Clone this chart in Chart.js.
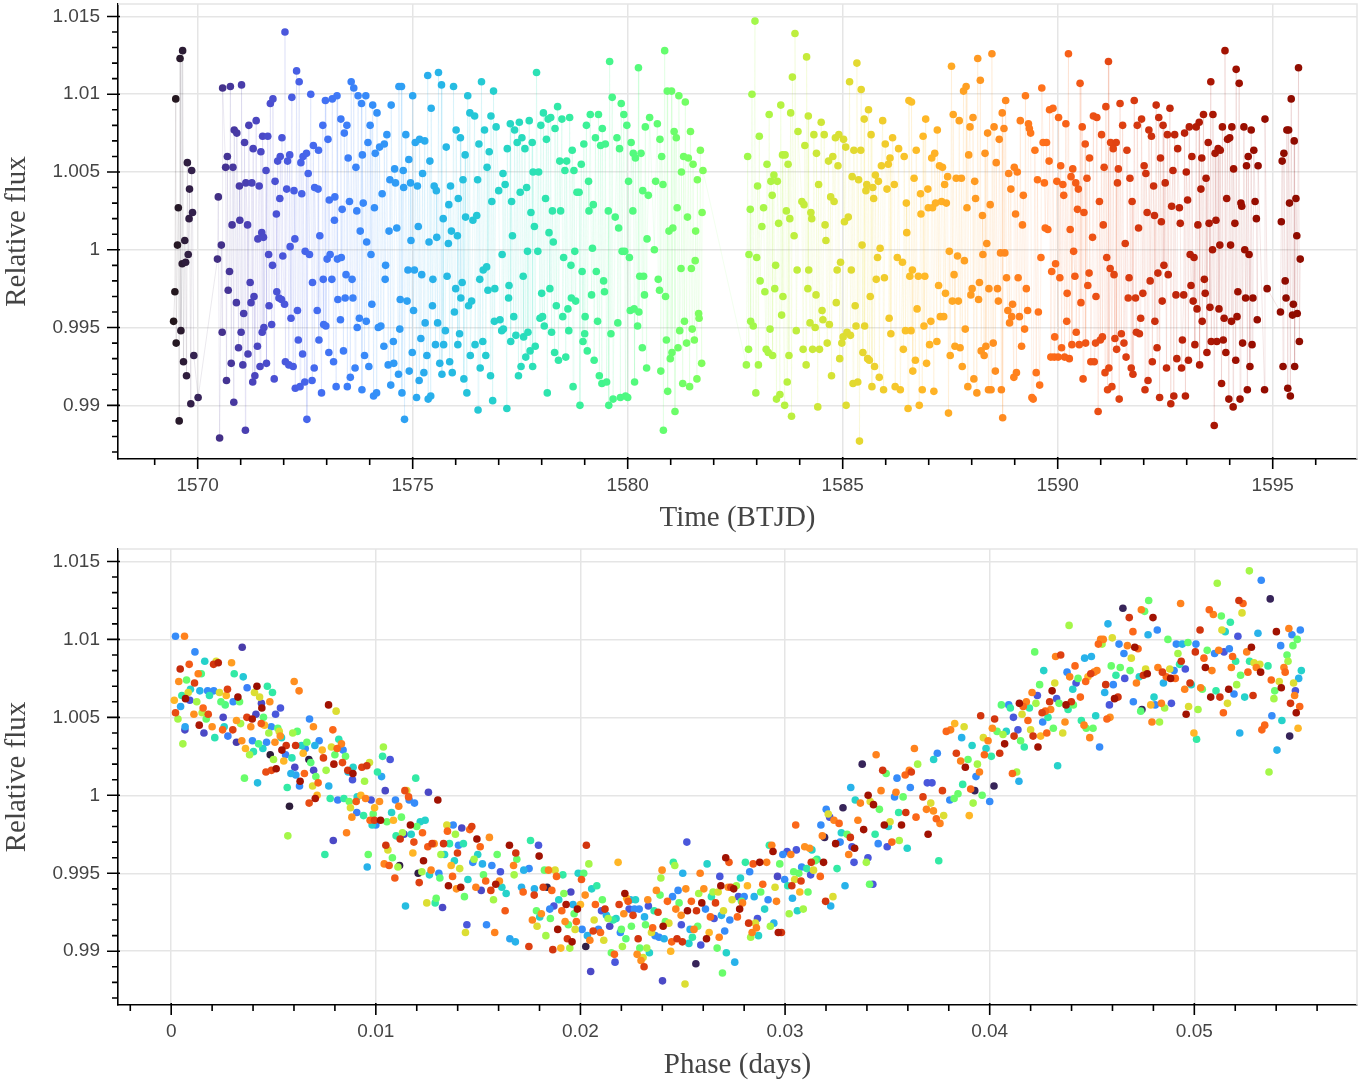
<!DOCTYPE html>
<html>
<head>
<meta charset="utf-8">
<script src="https://cdn.jsdelivr.net/npm/chart.js@4.4.0/dist/chart.umd.min.js"></script>
<style>
  body { margin: 0; background: #fff; width: 1371px; height: 1083px; overflow: hidden; position: relative; }
  canvas { position: absolute; left: 0; }
  #lcChart { top: 0; }
  #foldChart { top: 540px; }
</style>
</head>
<body>
<canvas id="lcChart" width="1371" height="540"></canvas>
<canvas id="foldChart" width="1371" height="543"></canvas>
<script>
// Light curve: [time (BTJD), relative flux]
const lightCurve = [
[1569.49,1.0097],[1569.59,1.0123],[1569.65,1.0128],[1569.76,1.0056],[1569.86,1.0051],[1569.81,1.0039],[1569.88,1.0024],[1569.80,1.0020],
[1569.55,1.0027],[1569.53,1.0003],[1569.70,1.0006],[1569.78,0.9997],[1569.64,0.9991],[1569.72,0.9992],[1569.47,0.9973],[1569.44,0.9954],
[1569.61,0.9948],[1569.50,0.9940],[1569.67,0.9928],[1569.91,0.9932],[1569.74,0.9919],[1569.84,0.9901],[1570.01,0.9905],[1569.57,0.9890],
[1570.48,1.0034],[1570.55,1.0003],[1570.46,0.9994],[1570.57,0.9947],[1570.51,0.9879],[1570.58,1.0104],[1570.76,1.0105],[1570.67,0.9916],
[1570.69,1.0060],[1570.65,1.0053],[1570.82,1.0053],[1570.80,1.0016],[1570.74,0.9986],[1570.71,0.9974],[1570.78,0.9927],[1570.84,0.9902],
[1570.85,1.0077],[1570.91,1.0075],[1570.97,1.0041],[1570.90,0.9966],[1570.95,0.9937],[1571.02,1.0106],[1571.09,1.0069],[1571.12,1.0043],
[1570.98,1.0019],[1571.16,1.0016],[1571.01,0.9947],[1571.07,0.9959],[1571.05,0.9926],[1571.11,0.9884],[1571.19,1.0080],[1571.26,1.0043],
[1571.29,1.0065],[1571.36,1.0083],[1571.22,0.9979],[1571.24,0.9966],[1571.31,0.9970],[1571.17,0.9933],[1571.33,0.9919],[1571.28,0.9915],
[1571.39,0.9938],[1571.47,1.0063],[1571.43,1.0041],[1571.40,1.0007],[1571.49,1.0011],[1571.53,1.0008],[1571.51,1.0073],[1571.63,1.0073],
[1571.59,1.0051],[1571.65,0.9997],[1571.74,0.9990],[1571.50,0.9947],[1571.54,0.9950],[1571.60,0.9927],[1571.66,0.9964],[1571.72,0.9952],
[1571.45,0.9925],[1571.78,0.9917],[1571.69,1.0094],[1571.75,1.0097],[1571.80,1.0044],[1571.83,1.0023],[1571.86,1.0057],[1571.91,1.0033],
[1571.84,0.9973],[1571.89,0.9969],[1571.95,0.9968],[1572.02,0.9965],[1571.98,0.9996],[1571.92,1.0060],[1571.96,1.0072],[1572.03,1.0140],
[1572.09,1.0057],[1572.14,1.0061],[1572.07,1.0039],[1572.15,1.0002],[1572.17,0.9956],[1572.04,0.9928],[1572.12,0.9926],[1572.22,0.9925],
[1572.19,1.0098],[1572.24,1.0038],[1572.26,1.0007],[1572.30,1.0115],[1572.36,1.0108],[1572.27,0.9911],[1572.38,0.9912],[1572.49,0.9915],
[1572.32,0.9961],[1572.34,0.9942],[1572.40,1.0056],[1572.42,1.0036],[1572.45,1.0060],[1572.53,1.0062],[1572.44,0.9933],[1572.50,0.9999],
[1572.60,0.9997],[1572.57,1.0049],[1572.54,0.9891],[1572.63,1.0100],[1572.66,0.9916],[1572.69,1.0067],[1572.72,1.0040],[1572.80,1.0039],
[1572.67,0.9979],[1572.71,0.9924],[1572.81,1.0064],[1572.82,0.9942],[1572.78,0.9961],[1572.84,1.0009],[1572.88,0.9908],[1572.91,1.0080],
[1572.92,0.9981],[1573.12,0.9981],[1572.93,0.9952],[1572.98,0.9951],[1572.97,1.0096],[1573.03,1.0071],[1573.01,0.9994],[1573.08,0.9997],
[1573.06,1.0032],[1573.05,0.9934],[1573.13,1.0097],[1573.16,0.9928],[1573.18,1.0019],[1573.19,1.0034],[1573.24,1.0099],[1573.22,0.9912],
[1573.26,0.9968],[1573.43,0.9969],[1573.25,0.9994],[1573.34,0.9995],[1573.33,1.0084],[1573.32,0.9955],[1573.36,1.0026],[1573.39,0.9935],
[1573.41,1.0075],[1573.47,1.0080],[1573.48,0.9912],[1573.50,1.0059],[1573.45,0.9984],[1573.53,1.0031],[1573.55,0.9918],[1573.57,1.0108],
[1573.59,0.9981],[1573.61,0.9969],[1573.63,1.0104],[1573.66,0.9924],[1573.68,1.0053],[1573.70,1.0025],[1573.71,0.9950],[1573.73,1.0099],
[1573.76,0.9956],[1573.78,1.0012],[1573.81,1.0094],[1573.83,1.0061],[1573.82,0.9910],[1573.85,1.0030],[1573.88,0.9932],[1573.91,1.0099],
[1573.93,1.0005],[1573.92,0.9954],[1573.96,1.0069],[1573.98,0.9925],[1574.01,1.0080],[1574.03,0.9997],[1574.05,0.9965],[1574.07,1.0093],
[1574.09,0.9906],[1574.16,0.9908],[1574.11,1.0027],[1574.13,1.0062],[1574.17,1.0088],[1574.20,0.9950],[1574.26,0.9951],[1574.23,1.0066],
[1574.34,1.0068],[1574.29,1.0036],[1574.33,0.9938],[1574.36,0.9981],[1574.37,0.9990],[1574.40,1.0074],[1574.43,0.9926],[1574.56,0.9927],
[1574.45,1.0012],[1574.63,1.0014],[1574.47,1.0045],[1574.60,1.0043],[1574.49,0.9913],[1574.50,1.0093],[1574.55,0.9941],[1574.58,1.0052],
[1574.78,1.0051],[1574.67,0.9920],[1574.68,1.0105],[1574.74,1.0105],[1574.70,0.9949],[1574.71,0.9968],[1574.87,0.9967],[1574.75,0.9908],
[1574.79,1.0040],[1574.81,0.9891],[1574.84,1.0074],[1574.89,0.9987],[1574.91,1.0058],[1574.92,0.9922],[1574.95,1.0043],[1574.96,1.0006],
[1575.00,1.0099],[1575.02,0.9961],[1574.99,0.9934],[1575.04,0.9987],[1575.21,0.9984],[1575.06,1.0069],[1575.16,1.0071],[1575.28,1.0070],
[1575.09,0.9905],[1575.11,1.0041],[1575.13,1.0015],[1575.15,0.9916],[1575.19,0.9943],[1575.23,1.0049],[1575.26,0.9921],[1575.29,0.9953],
[1575.33,0.9932],[1575.35,1.0112],[1575.36,0.9904],[1575.42,0.9906],[1575.38,1.0005],[1575.40,1.0057],[1575.43,1.0091],[1575.46,0.9964],
[1575.47,0.9981],[1575.50,1.0041],[1575.55,1.0038],[1575.53,0.9939],[1575.56,1.0008],[1575.58,0.9953],[1575.60,1.0114],[1575.63,0.9927],
[1575.68,0.9920],[1575.67,1.0106],[1575.71,1.0020],[1575.72,0.9939],[1575.76,0.9948],[1575.78,1.0066],[1575.80,0.9983],[1575.83,1.0004],
[1575.84,1.0029],[1575.86,0.9928],[1575.92,0.9921],[1575.88,1.0041],[1575.90,1.0012],[1575.95,1.0105],[1575.97,0.9960],[1576.00,0.9975],
[1576.01,1.0077],[1576.04,1.0009],[1576.05,0.9939],[1576.06,1.0033],[1576.09,0.9946],[1576.11,1.0072],[1576.12,0.9969],[1576.15,0.9979],
[1576.17,1.0045],[1576.19,0.9917],[1576.22,1.0061],[1576.23,1.0021],[1576.40,1.0019],[1576.49,1.0022],[1576.26,0.9908],[1576.28,1.0099],
[1576.30,0.9964],[1576.33,1.0088],[1576.44,1.0086],[1576.34,0.9932],[1576.37,0.9967],[1576.45,0.9939],[1576.51,1.0045],[1576.52,0.9897],
[1576.54,1.0068],[1576.56,0.9981],[1576.57,0.9924],[1576.60,1.0108],[1576.63,0.9941],[1576.64,0.9987],[1576.72,0.9989],[1576.67,1.0077],
[1576.70,0.9932],[1576.73,1.0053],[1576.75,0.9974],[1576.78,1.0063],[1576.81,0.9919],[1576.82,1.0086],[1576.84,1.0031],[1576.86,0.9903],
[1576.88,1.0102],[1576.90,0.9954],[1576.91,0.9975],[1576.94,1.0079],
[1577.08,0.9997],[1577.10,1.0049],[1577.15,1.0042],[1577.00,1.0038],[1577.03,0.9955],[1577.07,0.9948],[1577.11,0.9949],[1577.19,0.9898],
[1577.20,1.0065],[1577.23,0.9969],[1577.24,0.9977],[1577.27,1.0081],[1577.28,0.9941],[1577.30,1.0031],[1577.32,1.0009],[1577.35,0.9957],
[1577.37,1.0077],[1577.40,0.9945],[1577.43,1.0069],[1577.46,0.9919],[1577.48,1.0082],[1577.50,1.0037],[1577.52,0.9925],[1577.54,1.0072],
[1577.57,0.9983],[1577.58,0.9944],[1577.61,1.0065],[1577.63,0.9931],[1577.65,1.0040],[1577.67,0.9999],[1577.68,0.9947],[1577.71,1.0083],
[1577.73,0.9935],[1577.75,1.0024],[1577.78,1.0069],[1577.80,1.0050],[1577.79,0.9925],[1577.83,1.0015],[1577.85,0.9938],[1577.88,1.0114],
[1577.91,0.9999],[1577.93,1.0050],[1577.96,0.9956],[1577.98,1.0080],[1578.00,0.9972],[1578.02,0.9957],[1578.04,1.0088],[1578.06,0.9951],
[1578.09,1.0033],[1578.11,1.0071],[1578.13,0.9908],[1578.15,1.0084],[1578.17,1.0011],[1578.19,0.9975],[1578.21,1.0085],[1578.23,0.9947],
[1578.25,1.0025],[1578.27,1.0005],[1578.30,0.9934],[1578.31,1.0078],[1578.34,0.9964],[1578.37,1.0092],[1578.39,0.9929],[1578.42,1.0057],
[1578.44,1.0025],[1578.47,1.0084],[1578.49,0.9957],[1578.51,0.9995],[1578.54,1.0051],[1578.56,0.9931],[1578.58,1.0057],[1578.61,0.9962],
[1578.63,0.9948],[1578.65,1.0085],[1578.68,0.9990],[1578.69,0.9969],[1578.71,1.0064],[1578.73,0.9912],[1578.75,1.0051],[1578.77,0.9999],
[1578.79,0.9967],[1578.82,1.0037],[1578.87,1.0037],[1578.89,0.9900],[1578.92,1.0055],[1578.94,0.9986],[1578.96,0.9941],[1578.98,1.0068],
[1579.00,0.9946],[1579.01,0.9957],[1579.04,1.0080],[1579.06,0.9935],[1579.09,1.0044],[1579.10,1.0025],[1579.13,1.0087],[1579.16,0.9971],
[1579.18,1.0001],[1579.20,1.0029],[1579.22,0.9929],[1579.25,1.0072],[1579.27,0.9986],[1579.30,0.9954],[1579.32,1.0087],[1579.34,0.9919],
[1579.37,1.0067],[1579.40,0.9914],[1579.41,1.0078],[1579.44,0.9980],[1579.46,0.9973],[1579.48,1.0068],[1579.51,0.9915],[1579.55,1.0025],
[1579.56,0.9900],[1579.58,1.0121],[1579.61,0.9946],[1579.64,1.0098],[1579.66,0.9904],[1579.71,1.0021],[1579.75,1.0072],[1579.77,0.9953],
[1579.79,1.0014],[1579.81,1.0065],[1579.83,0.9905],[1579.85,1.0094],[1579.87,0.9999],[1579.91,1.0087],[1579.93,0.9999],[1579.95,0.9906],
[1579.98,1.0080],[1580.00,0.9905],[1580.02,1.0044],[1580.04,0.9995],[1580.06,0.9961],[1580.08,1.0069],[1580.12,1.0025],[1580.13,1.0062],
[1580.15,0.9962],[1580.26,0.9960],[1580.16,0.9915],[1580.18,1.0059],[1580.23,0.9951],[1580.25,1.0117],[1580.28,0.9983],[1580.37,0.9983],
[1580.31,1.0062],[1580.34,0.9937],[1580.35,1.0038],[1580.39,0.9971],[1580.41,1.0079],[1580.44,0.9924],[1580.45,1.0007],[1580.48,1.0035],
[1580.51,1.0085],[1580.62,1.0000],[1580.65,1.0044],[1580.69,1.0081],[1580.71,0.9981],[1580.74,0.9974],[1580.75,1.0071],[1580.77,0.9922],
[1580.79,1.0060],[1580.82,1.0042],[1580.83,0.9884],[1580.86,1.0128],[1580.88,0.9970],[1580.90,0.9942],[1580.92,1.0102],[1581.02,1.0102],
[1580.93,0.9909],[1580.96,1.0012],[1581.05,1.0014],[1580.99,0.9930],[1581.03,0.9934],[1581.08,1.0076],[1581.10,0.9896],[1581.13,1.0072],
[1581.15,1.0027],[1581.17,0.9937],[1581.19,1.0099],[1581.21,0.9948],[1581.24,0.9988],[1581.25,1.0050],[1581.28,0.9914],[1581.30,1.0060],
[1581.32,0.9954],[1581.34,1.0095],[1581.37,0.9940],[1581.39,1.0021],[1581.41,1.0059],[1581.44,0.9912],[1581.46,1.0076],[1581.48,0.9988],
[1581.50,0.9949],[1581.52,1.0055],[1581.55,0.9942],[1581.57,0.9993],[1581.58,1.0012],[1581.61,0.9917],[1581.62,1.0045],[1581.65,0.9959],
[1581.66,0.9956],[1581.69,1.0064],[1581.72,0.9927],[1581.73,1.0024],[1581.75,1.0051],
[1582.76,0.9926],[1582.79,1.0060],[1582.81,0.9936],[1582.82,0.9997],[1582.85,1.0026],[1582.86,0.9954],[1582.89,1.0100],[1582.92,0.9951],
[1582.96,1.0147],[1582.98,0.9908],[1583.00,0.9995],[1583.02,1.0041],[1583.04,0.9926],[1583.06,1.0073],[1583.08,0.9980],[1583.12,1.0015],
[1583.16,1.0027],[1583.19,0.9973],[1583.22,0.9936],[1583.24,1.0055],[1583.27,0.9934],[1583.29,1.0087],[1583.31,0.9949],[1583.33,1.0044],
[1583.36,1.0035],[1583.37,0.9932],[1583.40,1.0048],[1583.42,0.9975],[1583.44,0.9990],[1583.46,0.9904],[1583.48,1.0044],[1583.51,1.0017],
[1583.54,0.9907],[1583.56,1.0093],[1583.58,0.9958],[1583.60,1.0061],[1583.61,0.9970],[1583.65,0.9900],[1583.66,1.0061],[1583.69,1.0025],
[1583.71,0.9915],[1583.73,1.0055],[1583.75,0.9932],[1583.77,1.0020],[1583.79,1.0088],[1583.81,0.9893],[1583.83,1.0111],[1583.87,1.0009],
[1583.89,1.0139],[1583.92,0.9948],[1583.94,0.9987],[1583.96,1.0076],
[1584.05,1.0031],[1584.10,1.0029],[1584.08,0.9936],[1584.12,1.0067],[1584.15,0.9926],[1584.16,1.0124],[1584.19,0.9975],[1584.20,1.0086],
[1584.21,0.9987],[1584.24,0.9953],[1584.26,1.0024],[1584.28,1.0020],[1584.30,0.9936],[1584.33,1.0074],[1584.36,0.9950],[1584.38,0.9971],
[1584.39,1.0062],[1584.42,0.9899],[1584.44,1.0042],[1584.46,0.9936],[1584.50,1.0082],[1584.52,0.9961],[1584.54,0.9955],[1584.57,1.0074],
[1584.59,1.0016],[1584.61,1.0006],[1584.64,0.9940],[1584.67,1.0057],[1584.69,0.9952],[1584.72,1.0034],[1584.74,0.9919],[1584.77,1.0060],
[1584.80,1.0031],[1584.83,1.0072],[1584.85,0.9966],[1584.87,0.9987],[1584.89,1.0054],[1584.91,1.0074],[1584.93,0.9930],[1584.95,0.9992],
[1584.98,0.9940],[1585.01,0.9944],[1585.02,1.0071],[1585.04,1.0018],[1585.07,1.0066],[1585.08,0.9900],[1585.10,0.9947],[1585.13,1.0021],
[1585.16,1.0108],[1585.18,0.9945],[1585.20,0.9987],[1585.22,1.0047],[1585.24,0.9914],[1585.26,1.0064],[1585.29,0.9964],[1585.31,0.9951],
[1585.33,1.0120],[1585.35,0.9915],[1585.37,1.0045],[1585.39,0.9877],[1585.42,1.0064],[1585.43,1.0103],[1585.45,1.0003],[1585.47,0.9934],
[1585.50,1.0084],[1585.51,0.9951],[1585.54,1.0038],[1585.56,1.0042],[1585.58,0.9930],[1585.60,1.0090],[1585.62,0.9929],[1585.64,0.9970],
[1585.66,1.0074],[1585.68,0.9912],[1585.70,1.0040],[1585.72,1.0033],[1585.74,0.9925],[1585.76,1.0048],[1585.78,0.9981],[1585.81,0.9995],
[1585.83,1.0044],[1585.85,0.9918],[1585.87,1.0001],[1585.90,1.0054],[1585.93,1.0083],[1585.95,0.9910],[1585.97,0.9982],[1585.99,1.0068],
[1586.03,1.0039],[1586.06,1.0055],[1586.08,0.9956],[1586.10,1.0059],[1586.12,0.9946],[1586.16,1.0072],[1586.20,1.0042],[1586.22,0.9912],
[1586.27,0.9995],[1586.30,1.0065],[1586.34,0.9910],[1586.39,0.9992],[1586.41,0.9936],[1586.43,1.0060],[1586.46,0.9948],[1586.48,1.0030],
[1586.49,1.0011],[1586.52,0.9898],[1586.54,1.0096],[1586.56,0.9983],[1586.62,0.9987],[1586.59,0.9948],[1586.60,1.0095],[1586.63,0.9922],
[1586.66,1.0046],[1586.69,0.9929],[1586.71,1.0064],[1586.73,0.9962],[1586.76,0.9983],[1586.78,0.9900],[1586.81,1.0036],[1586.82,1.0023],
[1586.85,0.9910],[1586.87,1.0073],[1586.89,0.9951],[1586.91,0.9983],[1586.93,1.0084],[1586.95,0.9927],[1586.98,1.0039],[1586.99,1.0027],
[1587.02,0.9939],[1587.05,0.9954],[1587.07,1.0059],[1587.09,1.0027],[1587.12,0.9909],[1587.14,1.0062],[1587.16,1.0030],[1587.19,0.9941],
[1587.20,1.0077],[1587.23,0.9977],[1587.25,1.0054],[1587.27,0.9957],[1587.30,1.0031],[1587.32,1.0053],[1587.35,0.9957],[1587.37,1.0042],
[1587.39,0.9972],[1587.41,1.0030],[1587.44,1.0047],[1587.46,0.9895],[1587.48,0.9999],[1587.50,0.9932],[1587.53,1.0118],[1587.55,0.9967],
[1587.57,1.0087],[1587.59,0.9984],[1587.61,0.9938],[1587.64,1.0046],[1587.76,1.0046],[1587.67,0.9996],[1587.69,0.9967],[1587.71,1.0083],
[1587.73,0.9937],[1587.78,0.9925],[1587.81,1.0102],[1587.83,0.9993],[1587.85,0.9949],[1587.87,1.0105],[1587.89,1.0027],[1587.91,0.9912],
[1587.93,1.0061],[1587.96,1.0079],[1587.98,0.9971],[1588.01,0.9975],[1588.03,1.0085],[1588.05,0.9917],[1588.07,1.0044],[1588.09,1.0033],
[1588.12,0.9908],[1588.14,1.0123],[1588.16,0.9968],[1588.18,0.9979],[1588.20,1.0109],[1588.22,0.9935],[1588.25,1.0022],[1588.26,0.9997],
[1588.29,0.9932],[1588.31,1.0062],[1588.33,0.9938],[1588.35,1.0004],[1588.37,1.0075],[1588.39,0.9910],[1588.40,0.9975],[1588.43,1.0029],
[1588.45,0.9910],[1588.47,1.0126],[1588.50,0.9940],[1588.52,1.0079],[1588.55,0.9922],[1588.57,1.0056],[1588.60,0.9975],[1588.62,0.9967],
[1588.64,1.0071],[1588.67,0.9998],[1588.69,0.9910],[1588.71,1.0088],[1588.72,0.9892],[1588.75,1.0078],[1588.77,0.9998],[1588.79,1.0096],
[1588.81,0.9982],[1588.84,0.9961],[1588.86,1.0049],[1588.88,0.9953],[1588.91,1.0039],[1588.93,0.9957],[1588.95,0.9965],[1588.98,0.9918],
[1588.99,1.0053],[1589.02,1.0023],[1589.04,0.9921],[1589.06,1.0050],[1589.08,0.9982],[1589.11,0.9957],[1589.13,1.0083],[1589.16,0.9938],
[1589.18,1.0016],[1589.20,1.0035],[1589.23,0.9949],[1589.25,1.0099],[1589.27,0.9975],[1589.30,0.9961],[1589.32,1.0081],[1589.34,1.0078],
[1589.37,1.0075],[1589.40,0.9905],[1589.43,0.9904],[1589.47,1.0064],[1589.50,0.9921],[1589.53,1.0045],[1589.55,0.9960],[1589.58,0.9913],
[1589.61,0.9995],[1589.63,1.0104],[1589.66,1.0069],[1589.69,1.0043],[1589.71,1.0014],
[1589.74,1.0069],[1589.77,1.0013],[1589.80,1.0057],[1589.81,1.0090],[1589.84,0.9931],[1589.86,0.9986],[1589.89,1.0091],[1589.92,0.9931],
[1589.93,0.9944],[1589.95,0.9991],[1589.98,1.0044],[1590.01,0.9931],[1590.02,1.0085],[1590.05,0.9982],[1590.07,1.0054],[1590.09,0.9937],
[1590.12,1.0042],[1590.14,1.0035],[1590.16,0.9931],[1590.19,1.0081],[1590.21,0.9954],[1590.22,0.9972],[1590.25,1.0126],[1590.27,0.9930],
[1590.29,1.0013],[1590.31,1.0047],[1590.33,0.9939],[1590.35,1.0052],[1590.37,0.9999],[1590.40,0.9983],[1590.42,1.0043],[1590.43,0.9947],
[1590.46,1.0026],[1590.48,1.0039],[1590.50,0.9939],[1590.52,1.0107],[1590.54,0.9966],[1590.57,1.0079],[1590.59,0.9917],[1590.61,1.0024],
[1590.64,1.0068],[1590.65,0.9940],[1590.68,1.0046],[1590.70,0.9977],[1590.73,0.9985],[1590.74,1.0059],[1590.77,0.9928],[1590.81,1.0008],
[1590.83,1.0086],[1590.85,0.9928],[1590.88,0.9940],[1590.89,0.9970],[1590.91,1.0085],[1590.94,0.9896],[1590.97,1.0031],[1590.99,0.9942],
[1591.02,1.0074],[1591.04,0.9944],[1591.06,1.0016],[1591.08,1.0053],[1591.10,0.9921],[1591.12,1.0092],[1591.14,0.9995],[1591.16,0.9910],
[1591.18,1.0121],[1591.19,0.9924],[1591.22,0.9988],[1591.23,1.0069],[1591.26,0.9912],[1591.29,1.0065],[1591.31,0.9984],[1591.33,0.9943],
[1591.36,1.0069],[1591.37,0.9936],[1591.39,1.0043],[1591.41,1.0052],[1591.43,0.9904],[1591.45,1.0094],[1591.48,0.9946],[1591.51,1.0080],
[1591.54,0.9940],[1591.57,1.0004],[1591.59,0.9931],[1591.61,1.0064],[1591.64,0.9969],[1591.66,0.9982],[1591.68,1.0046],[1591.71,0.9924],
[1591.73,1.0031],[1591.75,0.9920],[1591.78,1.0096],[1591.81,0.9969],[1591.83,0.9947],[1591.85,1.0080],[1591.88,1.0014],[1591.90,0.9946],
[1591.93,0.9956],[1591.95,1.0084],[1591.98,0.9972],[1592.01,1.0054],[1592.03,0.9910],[1592.05,1.0049],[1592.08,1.0024],[1592.10,0.9916],
[1592.12,1.0077],[1592.15,0.9980],[1592.18,1.0073],[1592.20,0.9928],[1592.23,1.0041],[1592.25,1.0022],[1592.26,0.9954],[1592.29,1.0093],
[1592.31,0.9937],[1592.33,0.9985],[1592.35,1.0085],[1592.37,0.9905],[1592.39,1.0059],[1592.41,1.0018],[1592.43,0.9967],[1592.45,1.0080],
[1592.47,0.9990],[1592.50,1.0043],[1592.53,0.9924],[1592.55,1.0074],[1592.57,0.9984],[1592.61,1.0091],[1592.63,0.9901],[1592.65,1.0028],
[1592.68,1.0051],[1592.70,0.9906],[1592.72,1.0074],[1592.75,0.9971],[1592.77,0.9930],[1592.79,1.0065],[1592.83,1.0027],[1592.85,1.0017],
[1592.88,0.9924],[1592.90,0.9942],[1592.93,0.9971],[1592.95,1.0075],[1592.97,0.9906],[1592.99,1.0050],[1593.02,1.0032],[1593.04,0.9929],
[1593.06,1.0079],[1593.08,0.9997],[1593.10,0.9977],[1593.12,1.0060],[1593.15,0.9967],[1593.17,0.9995],[1593.19,0.9939],[1593.22,1.0079],
[1593.24,0.9962],[1593.26,1.0016],[1593.29,1.0082],[1593.30,0.9926],[1593.33,1.0039],[1593.35,1.0059],[1593.36,0.9954],[1593.39,1.0087],
[1593.41,0.9981],[1593.43,0.9972],[1593.45,1.0046],[1593.47,0.9934],[1593.50,1.0069],[1593.52,1.0017],[1593.54,0.9963],[1593.56,1.0108],
[1593.57,0.9941],[1593.60,1.0000],[1593.61,1.0087],[1593.64,0.9887],[1593.66,1.0062],[1593.68,1.0019],[1593.70,0.9941],[1593.73,1.0065],
[1593.75,0.9962],[1593.77,1.0003],[1593.78,1.0064],[1593.81,0.9914],[1593.83,1.0079],[1593.85,0.9942],[1593.87,0.9956],[1593.89,1.0128],
[1593.91,0.9934],[1593.93,1.0033],[1593.95,1.0071],[1593.98,0.9904],[1594.00,1.0072],[1594.02,1.0003],[1594.04,0.9954],[1594.05,1.0079],
[1594.08,0.9899],[1594.09,1.0052],[1594.12,1.0017],[1594.14,0.9929],[1594.15,1.0116],[1594.17,0.9957],[1594.19,0.9973],[1594.22,1.0107],
[1594.24,0.9904],[1594.26,1.0030],[1594.28,1.0028],[1594.30,0.9940],[1594.33,1.0079],[1594.35,1.0000],[1594.37,0.9969],[1594.39,1.0054],
[1594.41,0.9910],[1594.43,1.0060],[1594.45,0.9997],[1594.47,0.9925],[1594.50,1.0077],[1594.52,0.9939],[1594.54,0.9969],[1594.56,1.0064],
[1594.59,1.0031],[1594.62,1.0020],[1594.64,0.9955],[1594.66,1.0054],[1594.81,0.9910],[1594.82,1.0084],[1594.87,0.9975],
[1595.18,0.9960],[1595.20,1.0018],[1595.22,1.0057],[1595.24,0.9925],[1595.26,1.0062],[1595.29,0.9980],[1595.31,0.9969],[1595.33,1.0077],
[1595.35,0.9911],[1595.37,1.0077],[1595.39,1.0030],[1595.41,0.9906],[1595.43,1.0097],[1595.46,0.9958],[1595.48,0.9965],[1595.50,1.0070],
[1595.51,0.9925],[1595.54,1.0033],[1595.56,1.0009],[1595.57,0.9959],[1595.60,1.0117],[1595.62,0.9941],[1595.64,0.9994]
];

// Folded light curve: [phase (days), relative flux, time of observation (BTJD)]
const folded = [
[0.00021,1.0102,1574],[0.00065,1.0102,1589],[0.00116,1.0092,1574],[0.00347,1.0095,1571],[0.00044,1.0081,1592.5],[0.00088,1.0084,1590.5],
[0.00164,1.0086,1577],[0.0022,1.0086,1585],[0.00207,1.0084,1592],[0.0023,1.0085,1593],[0.00295,1.0085,1588],[0.00037,1.0073,1588.5],
[0.00075,1.0074,1581],[0.00114,1.0072,1591.5],[0.00132,1.0078,1589],[0.00147,1.0078,1580],[0.00308,1.0078,1578.5],[0.00352,1.0076,1576.5],
[0.00015,1.0061,1587],[0.00021,1.0053,1591],[0.00033,1.0049,1583],[0.00046,1.0057,1575],[0.00052,1.0064,1578.5],[0.0007,1.0062,1594],
[0.00083,1.0066,1585],[0.00094,1.0068,1577],[0.00091,1.0061,1572],[0.00111,1.0052,1588.5],[0.00125,1.006,1583],[0.0014,1.0067,1575.5],
[0.00156,1.0056,1590],[0.00151,1.0053,1583.5],[0.00171,1.0049,1581],[0.00181,1.0052,1591],[0.00137,1.0045,1593.5],[0.00068,1.0044,1575],
[0.00067,1.0042,1571.5],[0.00057,1.0033,1583],[0.0016,1.004,1571.5],[0.00178,1.0067,1574],[0.00187,1.0064,1578],[0.002,1.0044,1588.5],
[0.00208,1.0067,1574],[0.00213,1.0037,1578],[0.00236,1.0066,1585],[0.00243,1.006,1580.5],[0.00254,1.005,1571.5],[0.00259,1.0044,1577],
[0.00251,1.0042,1590],[0.00264,1.0058,1580],[0.00269,1.0064,1587],[0.00275,1.0068,1591.5],[0.00277,1.0038,1573.5],[0.00301,1.0042,1591.5],
[0.00303,1.006,1574],[0.00319,1.0048,1588],[0.00319,1.0034,1571],[0.00326,1.0063,1594],[0.00334,1.006,1581],[0.00339,1.0046,1583],
[0.00345,1.0035,1588.5],[0.00363,1.003,1587],[0.0037,1.005,1591.5],[0.00371,1.0069,1573.5],[0.00383,1.0026,1583],[0.00389,1.0044,1588.5],
[0.00396,1.0049,1593.5],[0.00414,1.0052,1571.5],[0.00397,1.0035,1574],[0.00402,1.0028,1578],[0.00407,1.0066,1585],[0.00419,1.007,1594.5],
[0.00422,1.0008,1576],[0.00358,1.0011,1581],[0.00427,1.0033,1580],[0.00432,1.0063,1585],[0.0044,1.0046,1590.5],[0.00443,1.0056,1594],
[0.00441,1.0059,1571.5],[0.00448,1.003,1577],[0.00451,1.005,1580.5],[0.00456,1.0045,1587],[0.00463,1.0015,1591],[0.00466,1.0034,1574],
[0.0047,1.007,1578.5],[0.00477,1.004,1583],[0.00484,1.0026,1569.7],[0.00482,1.006,1588.5],[0.00489,1.0044,1574],[0.0049,1.0016,1591],
[0.00495,1.0066,1578.5],[0.005,1.0023,1583],[0.00507,1.0034,1588.5],[0.0051,1.0052,1572],[0.00513,1.0017,1594],[0.00521,1.0043,1580.5],
[0.00528,1.0041,1585],[0.00534,1.0056,1572],[0.00533,1.0038,1588.5],[0.00539,1.0037,1577],[0.00541,1.0029,1594],[0.0055,1.0022,1587],
[0.00562,1.0032,1592],[0.00559,1.0026,1573.5],[0.00567,1.0005,1578.5],[0.0057,0.9974,1583],[0.00578,0.9993,1569.7],[0.0059,1.0024,1578],
[0.00594,1.004,1583],[0.00604,1.0018,1571.5],[0.00608,1.0032,1592],[0.00616,1.0041,1580.5],[0.00585,1.0014,1575.5],[0.00609,1.0013,1575],
[0.00627,1.0006,1574],[0.0063,1.0009,1594],[0.00601,1.0073,1588.5],[0.00625,1.0067,1589],[0.00637,1.0032,1577],[0.00645,1.0027,1587],
[0.00651,1.0014,1590],[0.00655,1.003,1574],[0.00663,1.0034,1581],[0.00673,1.0023,1569.8],[0.00676,1.0049,1574],[0.00682,1.0021,1580.5],
[0.00691,1.0006,1585],[0.00695,1.0044,1588.5],[0.00702,1.0032,1575.5],[0.00696,1.0016,1571.5],[0.00707,1.0012,1581],[0.00713,1.0000,1587],
[0.00718,1.0008,1590],[0.00723,1.0035,1574],[0.00674,0.9995,1591],[0.00704,0.9998,1593.5],[0.00738,1.0029,1587],[0.00744,1.0024,1591.5],
[0.00751,0.9962,1578.5],[0.00757,1.0016,1583],[0.00769,1.0058,1594],[0.0077,1.0006,1575.5],[0.00777,0.9998,1578.5],[0.00783,1.0031,1585],
[0.0079,1.0042,1590],[0.00792,0.9971,1571.5],[0.00795,1.002,1593.5],[0.008,1.0026,1581],[0.00806,1.0054,1585],[0.00811,1.003,1590],
[0.00814,0.9997,1573.5],[0.00819,1.0036,1578],[0.00832,1.0033,1589],[0.00837,1.0021,1591],[0.0084,1.0029,1574],[0.00844,0.9998,1578.5],
[0.00852,1.0025,1581],[0.00857,0.9976,1589],[0.00863,1.0016,1592],[0.00865,1.0015,1576],[0.0087,0.9996,1581],[0.00876,0.9992,1585],
[0.00883,0.9986,1588.5],[0.00886,1.001,1572],[0.00889,1.0018,1577],[0.00888,1.0014,1594],[0.00904,0.9996,1590.5],[0.00907,0.9989,1573.5],
[0.00909,0.9999,1577],[0.00927,1.0000,1587],[0.00932,1.0018,1591.5],[0.0094,0.9987,1578.5],[0.00945,1.0009,1583],[0.0095,0.9998,1589],
[0.00956,1.0019,1592],[0.00958,0.9954,1575.5],[0.00963,0.9962,1581],[0.00969,1.0021,1584.5],[0.00977,0.9997,1572],[0.00972,0.9984,1590],
[0.00993,0.9984,1591.5],[0.00982,0.9981,1577],[0.00987,0.9988,1581],[0.00994,0.9992,1587],[0.01,0.9981,1574],[0.01008,1.0015,1578.5],
[0.01018,0.9996,1588.5],[0.01023,0.9984,1594],[0.01028,1.0012,1575],[0.01033,1.0025,1578.5],[0.01037,1.0031,1583],[0.01041,0.9956,1589],
[0.01046,1.0003,1571.5],[0.01049,0.9968,1592],[0.01054,0.9983,1581],[0.01059,0.9965,1585],[0.01065,0.9955,1590.5],[0.0107,1.0023,1572],
[0.01077,0.9989,1577],[0.01081,0.996,1581],[0.01086,0.9984,1587],[0.01093,0.9947,1590.5],[0.01096,0.9997,1574],[0.01099,0.9974,1578.5],
[0.01108,0.9954,1583],[0.01112,0.9993,1589],[0.01116,0.9955,1569.8],[0.01119,0.9972,1592],[0.01125,0.9986,1581],[0.0113,0.9976,1583],
[0.01138,0.9975,1571.5],[0.01142,1.0003,1591],[0.01145,0.9929,1576],[0.01151,1.0003,1585],[0.0116,0.9999,1590.5],[0.01163,0.9997,1574],
[0.01169,0.9981,1594],[0.01173,0.9975,1577],[0.01181,0.9963,1587],[0.01186,0.997,1591],[0.01189,0.9995,1574],[0.01195,1.0011,1578.5],
[0.012,0.998,1581],[0.01207,0.995,1569.8],[0.01212,0.9944,1591.5],[0.01217,0.9983,1577],[0.01225,0.9951,1583],[0.01228,0.9976,1590],
[0.01233,0.9958,1594],[0.01241,0.9984,1577],[0.01249,0.9931,1585],[0.01257,1.0002,1571.5],[0.01254,0.9967,1590.5],[0.01262,0.9949,1577],
[0.0127,0.9952,1589],[0.01275,0.9969,1591.5],[0.01285,0.9969,1588.5],[0.0129,0.9931,1578.5],[0.01295,0.9934,1581],[0.01303,0.9997,1594],
[0.01308,0.995,1574],[0.01313,0.9947,1580.5],[0.01318,0.9962,1583],[0.01326,0.9928,1571.5],[0.01331,0.9969,1592],[0.01336,0.9962,1577],
[0.01347,0.9981,1585],[0.0135,0.9977,1590],[0.01355,0.9942,1594],[0.0136,0.9969,1578.5],[0.01368,0.9955,1587],[0.01375,0.9948,1590],
[0.01378,0.9981,1574],[0.01384,0.9958,1577],[0.01389,0.9975,1583],[0.01394,0.994,1588.5],[0.01399,0.9963,1591.5],[0.01404,0.9968,1574],
[0.0141,0.9953,1584.5],[0.01415,0.9941,1593.5],[0.0142,0.9979,1571.5],[0.01428,0.9969,1578],[0.01433,0.9935,1581],[0.01438,0.9912,1585],
[0.01445,0.9917,1572],[0.0145,0.9946,1577],[0.01459,0.9978,1590],[0.01469,0.998,1591.5],[0.01474,0.9957,1574],[0.0148,0.9959,1583],
[0.01489,0.9941,1589],[0.01494,0.9972,1594],[0.01498,0.9962,1577],[0.0151,0.9967,1590],[0.01515,0.9939,1571.5],[0.01521,0.9956,1575.5],
[0.01526,0.9949,1581],[0.01537,0.9945,1590],[0.01541,0.9917,1574],[0.01555,0.9973,1588.5],[0.01562,0.9939,1591.5],[0.01567,0.9955,1574],
[0.01575,0.9933,1583],[0.01581,0.9912,1589],[0.01586,0.9943,1593.5],[0.01593,0.9962,1581],[0.01604,0.9945,1588.5],[0.01609,0.9951,1572],
[0.01616,0.9941,1577],[0.01632,0.9926,1590.5],[0.01637,0.9937,1577],[0.01655,0.9908,1575],[0.01682,0.9906,1575.5],[0.01653,0.9968,1594],
[0.01673,0.9955,1589],[0.01684,0.9963,1592],[0.01676,0.9949,1583],[0.01689,0.9959,1581],
[0.01712,0.9941,1575.5],[0.0172,0.9938,1590],[0.01723,0.9952,1575.5],[0.01749,0.9953,1574],[0.01756,0.9971,1578.5],[0.01748,0.9903,1591.5],
[0.01765,0.992,1589],[0.01774,0.9936,1591.5],[0.01775,0.994,1575.5],[0.01785,0.9926,1581],[0.01788,0.9916,1585],[0.01795,0.9968,1572],
[0.01798,0.9961,1594],[0.01801,0.9922,1577],[0.01809,0.9924,1588.5],[0.01818,0.9941,1591.5],[0.01824,0.9952,1581],[0.01831,0.991,1583],
[0.01837,0.9941,1569.8],[0.01844,0.9952,1589],[0.0185,0.9927,1574],[0.01853,0.9921,1581],[0.0186,0.9939,1590],[0.01865,0.9901,1592],
[0.0187,0.9929,1572],[0.01876,0.9952,1585],[0.01883,0.9948,1590],[0.01889,0.9914,1594],[0.01894,0.9933,1577],[0.01904,0.9902,1587],
[0.01909,0.9926,1590],[0.01914,0.9949,1578.5],[0.01919,0.9937,1582],[0.01925,0.9919,1588.5],[0.0193,0.993,1593.5],[0.01936,0.9908,1592],
[0.01941,0.9917,1581],[0.01948,0.9902,1583],[0.01953,0.9938,1571.5],[0.01959,0.9906,1594],[0.01964,0.993,1575.5],[0.01969,0.9924,1581],
[0.01974,0.9914,1585],[0.0198,0.9919,1590],[0.01985,0.9927,1594],[0.01989,0.995,1577],[0.02,0.993,1587],[0.02005,0.9946,1590.5],
[0.02008,0.9914,1574],[0.02016,0.995,1580.5],[0.02023,0.9936,1588.5],[0.02026,0.9903,1569.8],[0.02029,0.9968,1592],[0.02034,0.991,1575.5],
[0.02041,0.9956,1583],[0.02046,0.9907,1589],[0.0205,0.9887,1571.5],[0.02055,0.994,1577],[0.02062,0.9913,1591.5],[0.02067,0.992,1585],
[0.02073,0.993,1590],[0.0208,0.9942,1578.5],[0.02088,0.9914,1574],[0.02098,0.9912,1590],[0.02103,0.9926,1572],[0.02107,0.9933,1581],
[0.02114,0.9907,1585],[0.0212,0.9927,1592],[0.02127,0.9923,1575.5],[0.02135,0.9921,1583],[0.02143,0.9916,1571.5],[0.02151,0.9899,1581],
[0.0216,0.992,1578.5],[0.02166,0.9898,1590],[0.02169,0.9893,1572],[0.02174,0.9921,1577],[0.02184,0.9957,1587],[0.02189,0.993,1591.5],
[0.02195,0.9912,1574],[0.022,0.9914,1581],[0.02205,0.9903,1583],[0.02212,0.9924,1588.5],[0.02217,0.9937,1594],[0.02222,0.9908,1580.5],
[0.02226,0.9934,1587],[0.02233,0.9932,1590.5],[0.02238,0.9927,1572],[0.02244,0.9933,1575.5],[0.02249,0.9916,1581],[0.02257,0.9923,1591.5],
[0.02264,0.9927,1574],[0.02269,0.9933,1577],[0.02277,0.9898,1588.5],[0.02282,0.9908,1592],[0.02287,0.9927,1574],[0.0229,0.9902,1581],
[0.02296,0.9894,1588.5],[0.02306,0.9896,1585],[0.02311,0.989,1591.5],[0.02313,0.9922,1575.5],[0.02318,0.9917,1581],[0.02324,0.9902,1583],
[0.02329,0.9933,1588.5],[0.02332,0.9929,1572],[0.02337,0.9899,1577],[0.02347,0.9912,1585],[0.02353,0.9915,1590],[0.0236,0.9926,1578.5],
[0.02365,0.991,1574],[0.02371,0.9939,1588.5],[0.02379,0.9925,1591.5],[0.02384,0.9909,1574],[0.02389,0.9936,1581],[0.02393,0.9947,1583],
[0.02399,0.9952,1588.5],[0.02401,0.9881,1571.5],[0.02404,0.9916,1594],[0.02409,0.9908,1575.5],[0.02415,0.9919,1581],[0.02425,0.9932,1590],
[0.02432,0.9918,1585],[0.02441,0.99,1587],[0.02446,0.9906,1590],[0.0245,0.9935,1574],[0.02454,0.9957,1578.5],[0.02461,0.9955,1583],
[0.02466,0.9927,1589],[0.02472,0.9908,1592],[0.02477,0.9939,1574],[0.02482,0.9931,1581],[0.02492,0.9923,1588.5],[0.02493,0.9917,1572],
[0.02498,0.9906,1592],[0.025,0.995,1575.5],[0.02511,0.9879,1585],[0.02515,0.994,1588.5],[0.0252,0.997,1572],[0.02523,0.9926,1594],
[0.0253,0.9905,1577],[0.02536,0.9914,1575.5],[0.02542,0.9932,1590],[0.02547,0.9909,1578.5],[0.02555,0.9914,1589],[0.02564,0.9892,1570],
[0.02567,0.9926,1592],[0.02573,0.9916,1581],[0.02578,0.9937,1583],[0.02585,0.995,1589],[0.02588,0.9904,1572],[0.02593,0.9931,1594],
[0.02603,0.994,1588.5],[0.02611,0.9927,1574],[0.02616,0.9908,1594],[0.02619,0.9956,1577],[0.02629,0.9912,1587],[0.02635,0.9922,1590],
[0.0264,0.9935,1578],[0.02648,0.9938,1583],[0.02653,0.9921,1572],[0.0266,0.9931,1591.5],[0.02668,0.9902,1581],[0.02673,0.9938,1585],
[0.02678,0.9909,1589],[0.02681,0.9948,1572],[0.02686,0.9942,1594],[0.02689,0.9923,1575.5],[0.02694,0.9886,1581],[0.02699,0.9926,1585],
[0.02705,0.9913,1574],[0.0271,0.996,1594],[0.02713,0.9899,1577],[0.02722,0.9941,1588.5],[0.02726,0.9957,1590.5],[0.0273,0.992,1574],
[0.02735,0.9941,1591.5],[0.02741,0.9933,1585],[0.02749,0.994,1594],[0.02754,0.9893,1575.5],[0.02762,0.9942,1583],[0.02767,0.9922,1590],
[0.02772,0.9935,1572],[0.02778,0.9927,1594],[0.02782,0.9947,1577],[0.02787,0.9932,1580.5],[0.02792,0.9931,1589],[0.028,0.9935,1574],
[0.02806,0.9957,1578.5],[0.02816,0.9942,1587],[0.02822,0.9918,1592],[0.02827,0.9951,1574],[0.02832,0.9909,1583],[0.02839,0.9912,1589],
[0.02844,0.9956,1590.5],[0.02849,0.9935,1575.5],[0.02855,0.9918,1585],[0.0286,0.9915,1589],[0.02865,0.9921,1572],[0.0287,0.991,1577],
[0.02876,0.9957,1594],[0.02881,0.9938,1581],[0.02891,0.9943,1590],[0.029,0.9927,1577],[0.0291,0.9957,1589],[0.02917,0.9933,1574],
[0.02923,0.9968,1578.5],[0.02928,0.9916,1583],[0.02935,0.9968,1589],[0.02941,0.9964,1594],[0.02945,0.9918,1575.5],[0.02951,0.9941,1585],
[0.02958,0.9932,1589],[0.02963,0.9948,1571.5],[0.02967,0.9912,1593.5],[0.02974,0.9956,1581],[0.02982,0.9912,1592],[0.02989,0.9962,1574],
[0.02998,0.9946,1574],[0.0301,0.9964,1572],[0.03013,0.9942,1578],[0.0302,0.9924,1583],[0.03028,0.9962,1589],[0.03033,0.9942,1592],
[0.03036,0.9934,1575.5],[0.03042,0.9951,1581],[0.03047,0.9946,1585],[0.03052,0.9981,1590],[0.03055,0.9965,1572],[0.0306,0.9926,1577],
[0.03067,0.995,1581],[0.03072,0.9938,1587],[0.03078,0.9945,1591.5],[0.03081,0.9954,1574],[0.03089,0.9927,1583],[0.03096,0.9967,1588.5],
[0.03106,0.9953,1578.5],[0.03112,0.9938,1581],[0.0312,0.9966,1588.5],[0.03125,0.9949,1572],[0.03128,0.9957,1592],[0.03131,0.9965,1577],
[0.03139,0.9952,1585],[0.03147,0.9958,1581],[0.03156,0.9959,1578.5],[0.03172,0.9948,1590],[0.03175,0.9981,1574],[0.03182,0.9974,1589],
[0.03188,0.9957,1594],[0.03193,0.9973,1570],[0.03198,0.9932,1592],[0.03201,0.9991,1574],[0.03211,0.9988,1585],[0.03218,0.9986,1572],
[0.03223,0.9929,1575.5],[0.03234,0.9935,1585],[0.03239,0.9984,1589],[0.03247,0.9969,1594],[0.03254,0.9953,1578.5],[0.03264,0.9982,1590],
[0.03269,0.997,1574],[0.03275,0.9976,1577],[0.03283,0.9992,1570],[0.03293,0.9942,1575.5],[0.03303,0.9975,1581],[0.03311,0.9962,1589],
[0.03319,0.9973,1592],[0.03321,1.0005,1575.5],[0.03327,0.9967,1572],[0.03337,0.9957,1572],[0.0334,0.9966,1594],[0.03343,0.9997,1577],
[0.03356,0.9984,1589],[0.03368,0.9995,1589],[0.03377,1.002,1570],[0.03384,0.9978,1594],[0.03397,0.9957,1583],[0.03405,0.996,1572],
[0.03406,1.0000,1594],[0.03413,0.9943,1581],[0.03416,0.9996,1585],[0.03429,0.9943,1572],[0.03432,0.9994,1594],[0.0344,0.9975,1578.5],
[0.03445,1.0026,1589],[0.03455,0.9969,1574],[0.03461,0.9991,1581],[0.03469,1.0003,1589],[0.03477,1.0016,1592],[0.03485,0.9981,1594],
[0.03494,1.0014,1581],[0.03499,0.9967,1572],[0.03505,0.998,1577],[0.03513,0.9983,1585],[0.03522,0.997,1590],[0.03535,0.9999,1574],
[0.03542,1.0002,1589],[0.03547,1.0011,1574],[0.03555,0.9989,1578.5],[0.03558,0.9971,1583],[0.03569,0.9981,1594],[0.03577,0.9999,1581],
[0.03587,1.0013,1590],[0.0359,0.9989,1592],[0.03597,0.9966,1577],[0.03607,1.0016,1589],[0.03612,1.0005,1574],[0.03617,1.0015,1591.5],
[0.03632,1.003,1589],[0.0364,0.9986,1590],[0.03648,1.002,1583],
[0.03674,0.9999,1591.5],[0.03699,0.9975,1594],[0.03695,1.0008,1572],[0.03718,1.0008,1572],[0.03691,0.9991,1589],[0.03712,0.9995,1585],
[0.03725,0.999,1588.5],[0.03744,1.0027,1574],[0.03726,1.0023,1577],[0.03751,0.9958,1578.5],[0.03739,0.9985,1590],[0.03757,0.9982,1589],
[0.03769,1.0003,1591.5],[0.03775,0.9987,1585],[0.03788,1.0041,1590],[0.03809,1.0042,1589],[0.03829,1.0046,1587],[0.03805,0.9997,1574],
[0.03826,0.9998,1581],[0.03837,1.0027,1591.5],[0.03845,1.0001,1581],[0.03858,1.0022,1589],[0.03863,1.0037,1575.5],[0.03868,1.0007,1578.5],
[0.03875,1.0044,1585],[0.03881,1.0018,1594],[0.03894,1.0023,1581],[0.039,0.9987,1587],[0.03907,1.0004,1590],[0.03914,1.0032,1577],
[0.03919,0.9995,1583],[0.03927,1.0003,1570],[0.03933,1.0012,1574],[0.0394,1.002,1583],[0.0395,1.0015,1589],[0.03956,1.0051,1592],
[0.03963,1.0000,1581],[0.03969,1.0037,1585],[0.03974,1.0026,1590],[0.03982,1.003,1577],[0.03992,1.0035,1589],[0.04,0.9996,1574],
[0.04008,1.0025,1578.5],[0.04013,1.0043,1588.5],[0.04021,1.0006,1570],[0.04024,1.0049,1592],[0.04036,1.0041,1581],[0.04049,1.0027,1592],
[0.04057,1.0058,1580.5],[0.04065,1.0039,1583],[0.04073,1.0033,1594],[0.04081,1.0041,1577],[0.04093,1.0058,1574],[0.04101,1.0056,1578.5],
[0.04111,1.0014,1590],[0.04116,1.005,1572],[0.04119,1.0038,1592],[0.04132,1.0015,1583],[0.04138,1.0042,1572],[0.04143,1.0009,1575.5],
[0.04145,1.0059,1594],[0.04151,1.0035,1581],[0.04158,1.0052,1585],[0.04164,1.0057,1590],[0.04169,1.0031,1578.5],[0.04179,1.006,1589],
[0.04187,1.0048,1590],[0.04194,1.0056,1578.5],[0.042,1.0042,1585],[0.04207,1.0066,1589],[0.04212,1.0038,1592],[0.0422,1.0092,1581],
[0.04226,1.0059,1583],[0.04233,1.0064,1572],[0.04236,1.0031,1594],[0.04244,1.0071,1581],[0.04249,1.0038,1587],[0.04256,1.0053,1591.5],
[0.04259,1.0047,1574],[0.04264,1.008,1577],[0.04272,1.0054,1590],[0.04279,1.004,1590],[0.04285,1.005,1578.5],[0.04293,1.006,1592],
[0.04298,1.0055,1589],[0.04305,1.0067,1594],[0.04311,1.0043,1581],[0.04318,1.0072,1585],[0.04322,1.0089,1589],[0.04327,1.0062,1572],
[0.04332,1.0019,1577],[0.04339,1.0059,1581],[0.04347,1.009,1591.5],[0.04357,1.004,1585],[0.04368,1.0047,1588.5],[0.04373,1.0058,1594],
[0.04378,1.0079,1574],[0.04383,1.0055,1578.5],[0.04388,1.0109,1583],[0.04391,1.0076,1589],[0.04399,1.006,1592],[0.04406,1.0068,1577],
[0.04409,1.0058,1581],[0.04417,1.0083,1590],[0.04422,1.0072,1572],[0.04432,1.0075,1581],[0.04443,1.0063,1590],[0.04448,1.0048,1578.5],
[0.04461,1.0045,1589],[0.04464,1.0088,1575.5],[0.04469,1.0073,1590],[0.04472,1.0043,1581],[0.0448,1.0076,1587],[0.04489,1.0037,1589],
[0.04494,1.0078,1591.5],[0.04497,1.0089,1575.5],[0.04505,1.0043,1581],[0.0451,1.0079,1589],[0.04518,1.0051,1577],[0.04524,1.008,1589],
[0.04531,1.0097,1590],[0.04537,1.0031,1574],[0.04542,1.01,1589],[0.04549,1.0097,1583],[0.04555,1.01,1589],[0.04562,1.0066,1575.5],
[0.04567,1.0071,1592],[0.04573,1.0049,1590],[0.04578,1.011,1575.5],[0.04585,1.0058,1572],[0.04588,1.005,1588.5],[0.04594,1.0083,1581],
[0.04599,1.0101,1585],[0.04604,1.0071,1574],[0.0461,1.0062,1594],[0.04617,1.0077,1578.5],[0.04627,1.0063,1592],[0.04632,1.0097,1574],
[0.04638,1.0082,1581],[0.04651,1.012,1570],[0.04656,1.0091,1574],[0.0466,1.0075,1572],[0.04673,1.0096,1589],[0.04682,1.0114,1592],
[0.04686,1.008,1581],[0.04692,1.0088,1585],[0.047,1.0105,1590],[0.04702,1.006,1574],[0.04709,1.0095,1594],[0.04717,1.0072,1589],
[0.04725,1.0094,1590],[0.04731,1.0076,1577],[0.04738,1.0054,1580.5],[0.04741,1.0119,1589],[0.04744,1.0055,1570],[0.04751,1.0077,1592],
[0.04757,1.0118,1581],[0.04762,1.0081,1585],[0.0477,1.0078,1594],[0.04774,1.0103,1575.5],[0.04777,1.0125,1581],[0.04787,1.0058,1587],
[0.04793,1.0047,1589],[0.04798,1.0114,1594],[0.04803,1.0063,1577],[0.04809,1.0058,1574],[0.04819,1.0106,1574],[0.04822,1.0082,1589],
[0.0483,1.0047,1583],[0.04839,1.0059,1589],[0.04844,1.0079,1591.5],[0.04849,1.0072,1575.5],[0.04855,1.0056,1583],[0.04863,1.0076,1590],
[0.04871,1.01,1581],[0.0488,1.0081,1585],[0.04884,1.0075,1594],[0.04888,1.0059,1572],[0.04901,1.008,1574],[0.04907,1.0075,1590],
[0.04912,1.0097,1574],[0.0492,1.0091,1583],[0.04928,1.0084,1578.5],[0.04933,1.0123,1589],[0.04936,1.0086,1592],[0.04941,1.0097,1575.5],
[0.04953,1.0068,1589],[0.04956,1.0081,1572],[0.0496,1.0052,1594],[0.04969,1.0098,1581],[0.04972,1.0057,1585],[0.04979,1.0072,1592],
[0.04985,1.0071,1577],[0.04998,1.004,1587],[0.05005,1.0092,1592],[0.05008,1.0097,1574],[0.05011,1.0036,1578.5],[0.05018,1.0055,1583],
[0.05028,1.0106,1592],[0.05031,1.0069,1589],[0.05039,1.0068,1581],[0.05047,1.0088,1590],[0.05054,1.0082,1594],[0.05063,1.0093,1581],
[0.05073,1.0119,1590],[0.0508,1.0063,1594],[0.05086,1.008,1589],[0.05093,1.0116,1589],[0.05099,1.0091,1574],[0.05106,1.0067,1578.5],
[0.05112,1.0136,1583],[0.05119,1.0093,1589],[0.05125,1.0063,1592],[0.05132,1.0115,1581],[0.05135,1.0106,1585],[0.05142,1.0053,1590],
[0.05145,1.0092,1572],[0.05151,1.0105,1577],[0.05162,1.0059,1585],[0.05168,1.0068,1594],[0.05171,1.0094,1574],[0.05176,1.0111,1578.5],
[0.05181,1.0082,1589],[0.05187,1.0089,1590],[0.05194,1.0065,1574],[0.05202,1.0086,1578.5],[0.05207,1.0071,1583],[0.05213,1.0102,1572],
[0.05218,1.0125,1592],[0.05222,1.004,1575.5],[0.05226,1.0077,1581],[0.05233,1.0117,1585],[0.05238,1.0123,1590],[0.05246,1.0063,1577],
[0.05256,1.0092,1589],[0.05262,1.0079,1590],[0.05269,1.0144,1583],[0.0527,1.0086,1578.5],[0.05279,1.0095,1594],[0.05287,1.0064,1592],
[0.05292,1.0085,1585],[0.05303,1.0082,1589],[0.05311,1.0104,1575.5],[0.0532,1.0084,1585],[0.05324,1.0079,1594],[0.05327,1.0138,1574],
[0.0533,1.0042,1590],[0.05344,1.0045,1590],[0.0536,1.0083,1578.5],[0.05365,1.0015,1583],[0.05371,1.0126,1570],[0.05376,1.0074,1590],
[0.05379,1.0051,1574],[0.05389,1.0062,1583],[0.05393,1.0067,1581],[0.05401,1.0105,1594],[0.05404,1.0029,1575.5],[0.05415,1.0073,1585],
[0.05422,1.0096,1574],[0.05425,1.0069,1594],[0.05428,1.0048,1577],[0.05438,1.0082,1589],[0.05444,1.0079,1590],[0.05453,1.009,1581],
[0.05458,1.0086,1583],[0.05462,1.0107,1589],[0.05466,1.0038,1570],[0.0547,1.0059,1592],[0.05477,1.0103,1574],[0.05482,1.0096,1581],
[0.05485,1.0072,1585],[0.0549,1.0064,1589],[0.05494,1.0067,1572],[0.05498,1.0053,1594],[0.05503,1.01,1581],[0.05507,1.0043,1587],
[0.0551,1.0075,1575.5],[0.05515,1.0057,1590],[0.05518,1.0106,1574],[0.05523,1.008,1577]
];

const FLUX_MIN = 0.98655, FLUX_MAX = 1.0158;
const TIME_MIN = 1568.147, TIME_MAX = 1596.96;
const PHASE_MIN = -0.0026, PHASE_MAX = 0.05795;

const GRID = '#e5e5e5';
const TEXT = '#444444';
const tickFont = { family: "'Liberation Sans', Arial, sans-serif", size: 19 };
const titleFont = { family: "'Liberation Serif', 'Times New Roman', serif", size: 29 };

lightCurve.sort((a, b) => a[0] - b[0]);
folded.sort((a, b) => a[2] - b[2]);
const tFirst = lightCurve[0][0], tLast = lightCurve[lightCurve.length - 1][0];

// turbo colormap (polynomial approximation)
function turbo(x) {
  x = Math.min(1, Math.max(0, x));
  const r = 0.13572138 + x*(4.61539260 + x*(-42.66032258 + x*(132.13108234 + x*(-152.94239396 + x*59.28637943))));
  const g = 0.09140261 + x*(2.19418839 + x*(4.84296658 + x*(-14.18503333 + x*(4.27729857 + x*2.82956604))));
  const b = 0.10667330 + x*(12.64194608 + x*(-60.58204836 + x*(110.36276771 + x*(-89.90310912 + x*27.34824973))));
  return [r, g, b].map(v => Math.round(255 * Math.min(1, Math.max(0, v))));
}
const timeRgb = t => turbo((t - tFirst) / (tLast - tFirst));
const rgbStr = (c, a) => a === undefined ? `rgb(${c[0]},${c[1]},${c[2]})` : `rgba(${c[0]},${c[1]},${c[2]},${a})`;

const onStep = (v, step) => Math.abs(v / step - Math.round(v / step)) < 1e-6;
const fmt = v => String(Number(v.toFixed(4)));

// axis frame + major/minor tick marks
const frame = {
  id: 'frame',
  beforeDatasetsDraw(chart) {
    const { ctx, chartArea: a } = chart;
    ctx.save();
    ctx.strokeStyle = GRID;
    ctx.lineWidth = 1.5;
    ctx.beginPath();
    ctx.moveTo(a.left, a.top); ctx.lineTo(a.right, a.top); ctx.lineTo(a.right, a.bottom);
    ctx.stroke();
    ctx.restore();
  },
  afterDraw(chart, args, o) {
    const { ctx } = chart;
    const xs = chart.scales.x, ys = chart.scales.y;
    ctx.save();
    ctx.strokeStyle = '#000';
    ctx.lineWidth = 1.6;
    ctx.beginPath();
    xs.ticks.forEach(t => {
      const p = xs.getPixelForValue(t.value);
      const big = onStep(t.value, o.xMajor);
      ctx.moveTo(p, xs.top - (big ? 2 : 0));
      ctx.lineTo(p, xs.top + (big ? 10 : 6));
    });
    ys.ticks.forEach(t => {
      const p = ys.getPixelForValue(t.value);
      const big = onStep(t.value, 0.005);
      ctx.moveTo(ys.right + (big ? 2 : 0), p);
      ctx.lineTo(ys.right - (big ? 11 : 6), p);
    });
    ctx.stroke();
    ctx.restore();
  }
};

function makeOptions(cfg) {
  return {
    responsive: false,
    animation: false,
    events: [],
    layout: { padding: { left: 0, right: 14, top: cfg.padTop, bottom: 0 } },
    plugins: {
      legend: { display: false },
      tooltip: { enabled: false },
      frame: { xMajor: cfg.xMajor }
    },
    scales: {
      x: {
        type: 'linear',
        min: cfg.xMin,
        max: cfg.xMax,
        afterFit: s => { s.height = cfg.xHeight; s.paddingLeft = 0; s.paddingRight = 0; },
        ticks: {
          stepSize: cfg.xStep,
          includeBounds: false,
          autoSkip: false,
          maxRotation: 0,
          padding: 5,
          color: TEXT,
          font: tickFont,
          callback: v => onStep(v, cfg.xMajor) ? fmt(v) : ''
        },
        grid: {
          color: c => (c.tick && onStep(c.tick.value, cfg.xMajor)) ? GRID : 'rgba(0,0,0,0)',
          lineWidth: 1.5,
          tickLength: 10,
          tickColor: 'rgba(0,0,0,0)'
        },
        border: { display: true, color: '#000', width: 1.6 },
        title: {
          display: true,
          text: cfg.xTitle,
          color: TEXT,
          font: titleFont,
          padding: { top: 0, bottom: cfg.xTitlePad }
        }
      },
      y: {
        type: 'linear',
        min: FLUX_MIN,
        max: FLUX_MAX,
        afterFit: s => { s.width = 118; s.paddingTop = 0; s.paddingBottom = 0; },
        ticks: {
          stepSize: 0.001,
          includeBounds: false,
          autoSkip: false,
          padding: 7,
          color: TEXT,
          font: tickFont,
          callback: v => onStep(v, 0.005) ? fmt(v) : ''
        },
        grid: {
          color: c => (c.tick && onStep(c.tick.value, 0.005)) ? GRID : 'rgba(0,0,0,0)',
          lineWidth: 1.5,
          tickLength: 11,
          tickColor: 'rgba(0,0,0,0)'
        },
        border: { display: true, color: '#000', width: 1.6 },
        title: {
          display: true,
          text: 'Relative flux',
          color: TEXT,
          font: titleFont,
          padding: { top: 0, bottom: 0 }
        }
      }
    }
  };
}

// top: light curve against time
const lcColors = lightCurve.map(d => timeRgb(d[0]));
new Chart(document.getElementById('lcChart'), {
  type: 'scatter',
  data: {
    datasets: [{
      data: lightCurve.map(d => ({ x: d[0], y: d[1] })),
      showLine: true,
      borderWidth: 1,
      borderColor: 'rgba(120,120,120,0.1)',
      segment: { borderColor: c => rgbStr(lcColors[c.p0DataIndex], 0.1) },
      pointRadius: 3.8,
      pointBorderWidth: 0,
      pointBackgroundColor: lcColors.map(c => rgbStr(c)),
      pointBorderColor: lcColors.map(c => rgbStr(c))
    }]
  },
  options: makeOptions({
    xMin: TIME_MIN, xMax: TIME_MAX, xStep: 1, xMajor: 5,
    xTitle: 'Time (BTJD)', xTitlePad: 4, xHeight: 81, padTop: 3
  }),
  plugins: [frame]
});

// bottom: phase-folded light curve
const foldColors = folded.map(d => rgbStr(timeRgb(d[2])));
new Chart(document.getElementById('foldChart'), {
  type: 'scatter',
  data: {
    datasets: [{
      data: folded.map(d => ({ x: d[0], y: d[1] })),
      pointRadius: 3.8,
      pointBorderWidth: 0,
      pointBackgroundColor: foldColors,
      pointBorderColor: foldColors
    }]
  },
  options: makeOptions({
    xMin: PHASE_MIN, xMax: PHASE_MAX, xStep: 0.002, xMajor: 0.01,
    xTitle: 'Phase (days)', xTitlePad: 0, xHeight: 78, padTop: 9
  }),
  plugins: [frame]
});
</script>
</body>
</html>
